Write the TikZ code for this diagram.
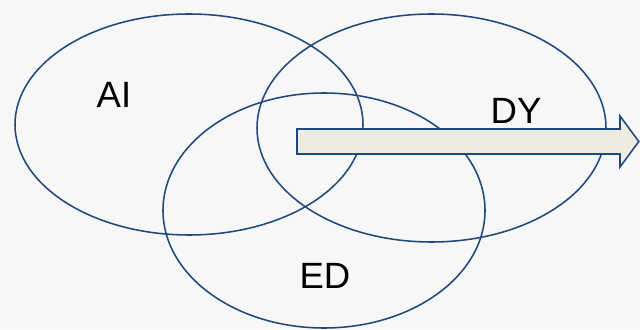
\documentclass[tikz,border=0pt]{standalone}
\usepackage{fontspec}
\setmainfont{Liberation Sans}
\usetikzlibrary{shapes.geometric, calc}
\definecolor{myblue}{RGB}{31,73,125}
\definecolor{mybg}{RGB}{247,247,247}
\definecolor{mybeige}{RGB}{238,236,225}
\tikzset{
  venn/.style={ellipse, draw=myblue, line width=1.1pt, inner sep=0pt},
  lbl/.style={font=\fontsize{26}{30}\selectfont, color=black},
  bigarrow/.style={draw=myblue, fill=mybeige, line width=1.1pt, line join=miter}
}
\begin{document}
\begin{tikzpicture}
  % Background
  \fill[mybg] (0,0) rectangle (16,8.225);
  \useasboundingbox (0,0) rectangle (16,8.225);

  % Sets
  \node[venn, minimum width=8.7cm, minimum height=5.525cm] (ai) at (4.725,5.1125) {};
  \node[venn, minimum width=8.725cm, minimum height=5.7cm] (dy) at (10.7875,5.025) {};
  \node[venn, minimum width=8.05cm, minimum height=5.875cm] (ed) at (8.1,2.9625) {};

  % Arrow
  \coordinate (tail) at (7.425,4.6875);
  \coordinate (tip) at (15.97,4.6875);
  \draw[bigarrow] ($(tail)+(0,0.3125)$) -- (15.5,5.0) -- (15.5,5.325) -- (tip)
    -- (15.5,4.05) -- (15.5,4.375) -- ($(tail)+(0,-0.3125)$) -- cycle;

  % Labels
  \node[lbl] (lai) at (2.85,5.85) {AI};
  \node[lbl] (ldy) at (12.9,5.45) {DY};
  \node[lbl] (led) at (8.125,1.325) {ED};
\end{tikzpicture}
\end{document}
